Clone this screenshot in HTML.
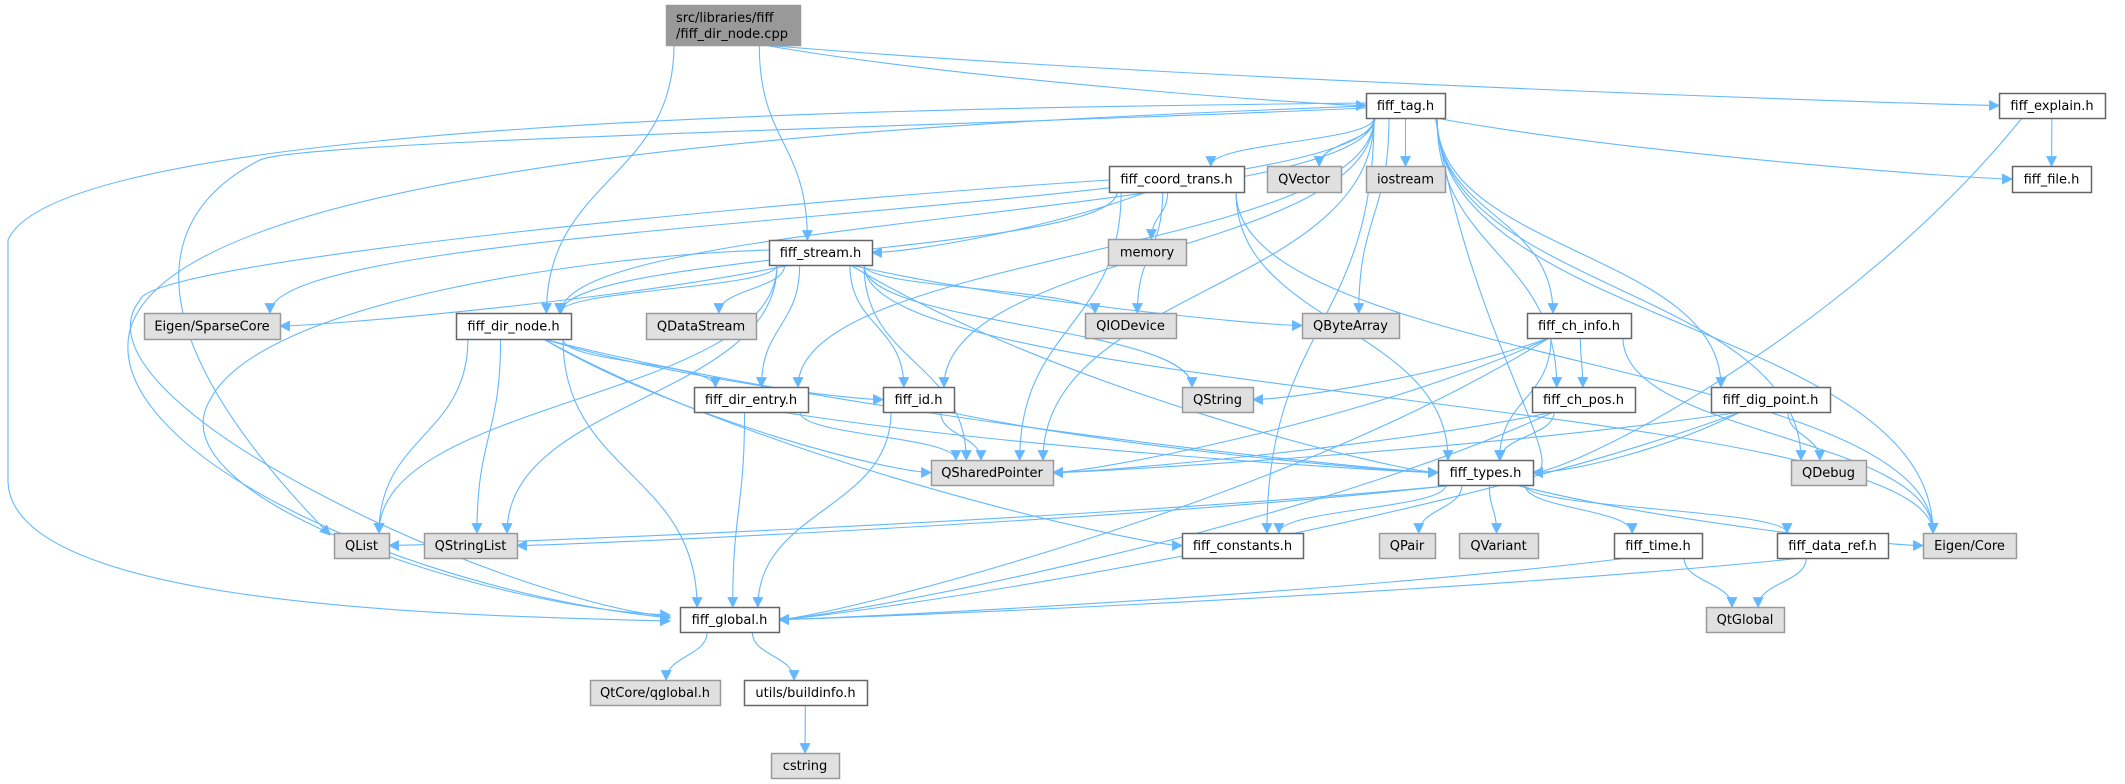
<!DOCTYPE html>
<html><head><meta charset="utf-8"><style>
html,body{margin:0;padding:0;background:#fff;width:2125px;height:784px;overflow:hidden}
svg{position:absolute;left:0;top:0}
text{font-family:"DejaVu Sans","Liberation Sans",sans-serif;font-size:13px;fill:#000}
</style></head><body>
<svg id="g" width="2125" height="784" xmlns="http://www.w3.org/2000/svg">
<defs><marker id="a" viewBox="0 0 10 10" refX="9" refY="5" markerWidth="11" markerHeight="11" markerUnits="userSpaceOnUse" orient="auto"><path d="M0,0 L10,5 L0,10 z" fill="#63b8ff"/></marker></defs>
<g id="edges" fill="none" stroke="#63b8ff" stroke-width="1.1"></g>
<g id="nodes"></g>
</svg>
<script>
var N={
cpp:[666,5,800,45,'src/libraries/fiff|/fiff_dir_node.cpp',2],
tag:[1366,93,1445,118,'fiff_tag.h',0],
explain:[1999,93,2105,118,'fiff_explain.h',0],
file:[2012,166,2091,192,'fiff_file.h',0],
coord:[1109,166,1244,192,'fiff_coord_trans.h',0],
qvector:[1267,166,1341,192,'QVector',1],
iostream:[1366,166,1445,192,'iostream',1],
memory:[1108,239,1186,265,'memory',1],
stream:[769,240,872,265,'fiff_stream.h',0],
sparse:[144,313,280,339,'Eigen/SparseCore',1],
dirnode:[456,313,571,339,'fiff_dir_node.h',0],
qds:[646,313,756,339,'QDataStream',1],
qiod:[1085,313,1176,338,'QIODevice',1],
qba:[1302,313,1399,338,'QByteArray',1],
chinfo:[1527,313,1631,338,'fiff_ch_info.h',0],
direntry:[694,387,808,412,'fiff_dir_entry.h',0],
id:[883,387,954,412,'fiff_id.h',0],
qstring:[1182,387,1253,412,'QString',1],
chpos:[1532,387,1635,412,'fiff_ch_pos.h',0],
dig:[1711,387,1830,412,'fiff_dig_point.h',0],
qsp:[931,460,1053,485,'QSharedPointer',1],
types:[1438,460,1533,485,'fiff_types.h',0],
qdebug:[1791,460,1866,485,'QDebug',1],
qlist:[334,533,389,558,'QList',1],
qsl:[424,533,517,558,'QStringList',1],
consts:[1182,533,1303,558,'fiff_constants.h',0],
qpair:[1379,533,1435,558,'QPair',1],
qvar:[1459,533,1538,558,'QVariant',1],
time:[1614,533,1702,558,'fiff_time.h',0],
dref:[1777,533,1888,558,'fiff_data_ref.h',0],
eigen:[1923,533,2016,558,'Eigen/Core',1],
global:[680,607,779,632,'fiff_global.h',0],
qglobal:[1706,607,1784,632,'QtGlobal',1],
qtcore:[590,680,720,705,'QtCore/qglobal.h',1],
build:[744,680,867,705,'utils/buildinfo.h',0],
cstring:[771,753,839,778,'cstring',1]
};
var E=[['cpp','dirnode'],['cpp','stream'],['cpp','tag','L'],['cpp','explain','L'],
['tag','coord'],['tag','qvector'],['tag','iostream'],['tag','file','L'],['tag','chinfo'],['tag','chpos'],['tag','dig'],['tag','types','R'],['tag','qdebug'],['tag','eigen'],['tag','qba'],['tag','consts'],['tag','qsp'],['tag','id'],['tag','direntry'],['tag','dirnode'],['tag','sparse'],
['explain','file'],['explain','types','R'],
['coord','memory'],['coord','qiod'],['coord','qsp'],['coord','types'],['coord','eigen'],['coord','stream','R'],['coord','dirnode'],
['stream','sparse','R'],['stream','dirnode'],['stream','qds'],['stream','qiod'],['stream','qba','L'],['stream','qstring'],['stream','direntry'],['stream','id'],['stream','qsp'],['stream','types','L'],['stream','eigen'],['stream','qlist'],['stream','qsl'],
['dirnode','qlist'],['dirnode','qsl'],['dirnode','global'],['dirnode','direntry'],['dirnode','id','L'],['dirnode','qsp','L'],['dirnode','types','L'],['dirnode','consts','L'],
['direntry','global'],['direntry','qsp'],['direntry','types','L'],
['id','qsp'],['id','global'],['id','types','L'],
['chinfo','qstring','R'],['chinfo','chpos'],['chinfo','types'],['chinfo','qsp','R'],['chinfo','global','R'],['chinfo','eigen'],
['chpos','qsp','R'],['chpos','types'],['chpos','global','R'],
['dig','qsp','R'],['dig','types','R'],['dig','qdebug'],['dig','global','R'],
['types','qlist','R'],['types','qsl','R'],['types','consts'],['types','qpair'],['types','qvar'],['types','time'],['types','dref'],['types','eigen','L'],
['time','global','R'],['time','qglobal'],['dref','global','R'],['dref','qglobal'],
['global','qtcore'],['global','build'],['build','cstring']];
var C=[
'M1366,103 C900,108 60,120 8,240 L8,480 C8,600 400,615 670,621',
'M1366,106 C1000,120 180,150 130,330 C100,450 400,590 670,618',
'M1366,108 C1000,125 300,140 260,160 C180,200 100,300 330,535',
'M1109,180 C800,200 150,260 140,300 C60,400 500,600 670,617',
'M769,250 C600,255 260,300 210,400 C150,500 500,610 670,615'
];
var eg=document.getElementById('edges'),ng=document.getElementById('nodes'),S='http://www.w3.org/2000/svg';
function P(d){var p=document.createElementNS(S,'path');p.setAttribute('d',d);p.setAttribute('marker-end','url(#a)');eg.appendChild(p);}
function cx(n){return (n[0]+n[2])/2}
function cy(n){return (n[1]+n[3])/2}
E.forEach(function(e){var s=N[e[0]],t=N[e[1]],m=e[2]||'T',x1,y1,x2,y2,d;
 var tx=cx(t);
 if(m=='T'){
  x1=Math.max(s[0]+8,Math.min(s[2]-8,cx(s)+(tx-cx(s))*0.3));y1=s[3];
  x2=Math.max(t[0]+10,Math.min(t[2]-10,tx+(cx(s)-tx)*0.15));y2=t[1];
  var h=(y2-y1)*0.5;d='M'+x1+','+y1+' C'+x1+','+(y1+h)+' '+x2+','+(y2-h)+' '+x2+','+y2;
 } else {
  x2=(m=='L')?t[0]:t[2]; y2=cy(t);
  var right=(x2>cx(s));
  if(t[1]-s[3]<20){x1=right?s[2]:s[0];y1=cy(s);}
  else{x1=right?Math.min(s[2]-4,cx(s)+30):Math.max(s[0]+4,cx(s)-30);y1=s[3];}
  var c2=x2+((m=='L')?-40:40);
  d='M'+x1+','+y1+' C'+(x1+(x2-x1)*0.35)+','+(y1+(y2-y1)*0.6)+' '+c2+','+y2+' '+x2+','+y2;
 }
 P(d);});
C.forEach(P);
for(var k in N){var n=N[k];var r=document.createElementNS(S,'rect');
 r.setAttribute('x',n[0]+.5);r.setAttribute('y',n[1]+.5);r.setAttribute('width',n[2]-n[0]);r.setAttribute('height',n[3]-n[1]);
 r.setAttribute('fill',n[5]==2?'#999999':n[5]==1?'#e0e0e0':'#ffffff');r.setAttribute('stroke',n[5]==0?'#666666':'#999999');r.setAttribute('stroke-width','1.5');ng.appendChild(r);
 var lines=n[4].split('|');
 lines.forEach(function(L,i){var t=document.createElementNS(S,'text');
  if(lines.length>1){t.setAttribute('x',n[0]+10);t.setAttribute('y',n[1]+17+i*16);}
  else{t.setAttribute('x',(n[0]+n[2])/2);t.setAttribute('y',(n[1]+n[3])/2+4.5);t.setAttribute('text-anchor','middle');}
  t.textContent=L;ng.appendChild(t);});
}
</script>
</body></html>
